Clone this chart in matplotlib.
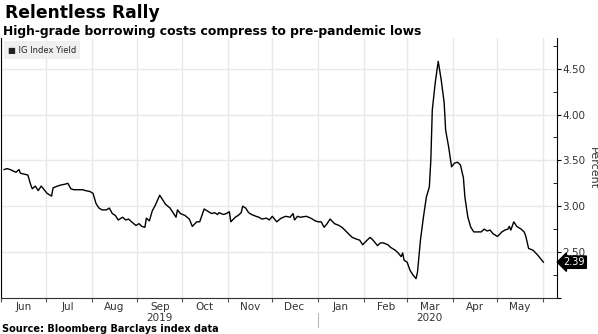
import matplotlib
matplotlib.use("Agg")
import matplotlib.pyplot as plt
import matplotlib.dates as mdates
import matplotlib.transforms as mtransforms
import pandas as pd

dates = [
    "2019-06-03", "2019-06-05", "2019-06-07", "2019-06-11", "2019-06-13", "2019-06-14",
    "2019-06-19", "2019-06-21", "2019-06-22", "2019-06-24", "2019-06-26", "2019-06-28",
    "2019-06-30", "2019-07-02", "2019-07-05", "2019-07-06", "2019-07-09", "2019-07-11",
    "2019-07-14", "2019-07-16", "2019-07-18", "2019-07-20", "2019-07-23", "2019-07-26",
    "2019-07-28", "2019-07-31", "2019-08-02", "2019-08-04", "2019-08-06", "2019-08-08",
    "2019-08-11", "2019-08-13", "2019-08-15", "2019-08-17", "2019-08-19", "2019-08-22",
    "2019-08-24", "2019-08-26", "2019-08-28", "2019-08-31", "2019-09-02", "2019-09-04",
    "2019-09-06", "2019-09-07", "2019-09-09", "2019-09-11", "2019-09-13", "2019-09-16",
    "2019-09-18", "2019-09-20", "2019-09-23", "2019-09-25", "2019-09-27", "2019-09-28",
    "2019-09-30", "2019-10-03", "2019-10-06", "2019-10-08", "2019-10-11", "2019-10-13",
    "2019-10-16", "2019-10-18", "2019-10-21", "2019-10-23", "2019-10-25", "2019-10-26",
    "2019-10-29", "2019-10-31", "2019-11-02", "2019-11-03", "2019-11-06", "2019-11-08",
    "2019-11-10", "2019-11-11", "2019-11-13", "2019-11-15", "2019-11-17", "2019-11-20",
    "2019-11-22", "2019-11-24", "2019-11-27", "2019-11-29", "2019-12-01", "2019-12-04",
    "2019-12-07", "2019-12-10", "2019-12-13", "2019-12-15", "2019-12-16", "2019-12-18",
    "2019-12-20", "2019-12-24", "2019-12-27", "2019-12-30", "2020-01-01", "2020-01-03",
    "2020-01-05", "2020-01-07", "2020-01-09", "2020-01-12", "2020-01-15", "2020-01-17",
    "2020-01-19", "2020-01-22", "2020-01-24", "2020-01-27", "2020-01-29", "2020-01-31",
    "2020-02-03", "2020-02-05", "2020-02-07", "2020-02-10", "2020-02-12", "2020-02-14",
    "2020-02-17", "2020-02-19", "2020-02-22", "2020-02-24", "2020-02-26", "2020-02-27",
    "2020-02-28", "2020-03-01", "2020-03-03", "2020-03-05", "2020-03-07", "2020-03-08",
    "2020-03-10", "2020-03-12", "2020-03-14", "2020-03-16", "2020-03-17", "2020-03-18",
    "2020-03-20", "2020-03-22", "2020-03-24", "2020-03-26", "2020-03-27", "2020-03-29",
    "2020-03-31", "2020-04-02", "2020-04-04", "2020-04-06", "2020-04-08", "2020-04-09",
    "2020-04-11", "2020-04-13", "2020-04-15", "2020-04-18", "2020-04-20", "2020-04-22",
    "2020-04-24", "2020-04-26", "2020-04-28", "2020-05-01", "2020-05-04", "2020-05-06",
    "2020-05-08", "2020-05-09", "2020-05-10", "2020-05-12", "2020-05-14", "2020-05-17",
    "2020-05-19", "2020-05-20", "2020-05-22", "2020-05-25", "2020-05-28", "2020-05-30",
    "2020-06-01",
]
yields = [
    3.40, 3.41, 3.40, 3.37, 3.40, 3.36,
    3.34, 3.23, 3.19, 3.22, 3.17, 3.22,
    3.18, 3.14, 3.11, 3.20, 3.22, 3.23,
    3.24, 3.25, 3.19, 3.18, 3.18, 3.18,
    3.17, 3.16, 3.14, 3.03, 2.98, 2.96,
    2.96, 2.98, 2.92, 2.90, 2.85, 2.88,
    2.85, 2.86, 2.83, 2.79, 2.81, 2.78,
    2.77, 2.87, 2.84, 2.95, 3.01, 3.12,
    3.07, 3.02, 2.98, 2.93, 2.88, 2.96,
    2.92, 2.90, 2.86, 2.78, 2.83, 2.83,
    2.97, 2.95, 2.92, 2.93, 2.91, 2.93,
    2.91, 2.92, 2.94, 2.83, 2.88, 2.90,
    2.93, 3.00, 2.98, 2.93, 2.91, 2.89,
    2.88, 2.86, 2.87, 2.85, 2.89, 2.83,
    2.87, 2.89, 2.88, 2.92, 2.85, 2.89,
    2.88, 2.89, 2.87, 2.84, 2.83, 2.83,
    2.77, 2.81, 2.86, 2.81, 2.79, 2.77,
    2.74, 2.69, 2.66, 2.64, 2.63, 2.58,
    2.63, 2.66, 2.63, 2.57, 2.60, 2.60,
    2.58, 2.55, 2.52, 2.49, 2.45, 2.49,
    2.41, 2.39, 2.30, 2.25, 2.21, 2.28,
    2.63, 2.88, 3.10, 3.21, 3.50, 4.05,
    4.35, 4.58, 4.38, 4.13, 3.83, 3.65,
    3.43, 3.47, 3.48, 3.45, 3.31, 3.10,
    2.88, 2.77, 2.72, 2.72, 2.72, 2.75,
    2.73, 2.74, 2.70, 2.67, 2.72, 2.74,
    2.75, 2.78, 2.74, 2.83, 2.78, 2.75,
    2.72, 2.68, 2.54, 2.52, 2.47, 2.43,
    2.39,
]
month_starts = pd.date_range("2019-06-01", "2020-06-01", freq="MS")
month_labels = ["Jun", "Jul", "Aug", "Sep", "Oct", "Nov", "Dec",
                "Jan", "Feb", "Mar", "Apr", "May"]
year_labels = {"2019": "2019-09-16", "2020": "2020-03-16"}
last_value = "2.39"

x = pd.to_datetime(dates)

fig = plt.figure(figsize=(5.98, 3.34), dpi=100)
ax = fig.add_axes([0.002, 0.108, 0.929, 0.777])

ax.plot(x, yields, color="black", linewidth=1.0, zorder=3)

ax.set_xlim(pd.Timestamp("2019-06-02"), pd.Timestamp("2020-06-10"))
ax.set_ylim(2.0, 4.83)

# month boundaries as major ticks, month labels on mid-month minor ticks
ax.set_xticks(month_starts)
ax.xaxis.set_major_formatter(mdates.DateFormatter(""))
mids = month_starts[:-1] + pd.Timedelta(days=15)
ax.set_xticks(mids, minor=True)
ax.set_xticklabels(month_labels, minor=True)
ax.tick_params(axis="x", which="major", direction="out", length=3, color="#555555")
ax.tick_params(axis="x", which="minor", length=0, pad=3, labelsize=7.5, labelcolor="#333333")

ax.yaxis.tick_right()
ax.yaxis.set_label_position("right")
ax.set_yticks([2.0, 2.5, 3.0, 3.5, 4.0, 4.5])
ax.set_yticklabels(["", "2.50", "3.00", "3.50", "4.00", "4.50"])
ax.set_yticks([2.25, 2.75, 3.25, 3.75, 4.25, 4.75], minor=True)
ax.tick_params(axis="y", which="major", direction="out", length=3, labelsize=7.5,
               labelcolor="#333333", pad=1)
ax.tick_params(axis="y", which="minor", direction="in", length=3)
ax.set_ylabel("Percent", rotation=-90, labelpad=2, fontsize=8, color="#333333",
              va="bottom")

ax.grid(True, which="major", axis="both", color="#e8e8e8", linewidth=1.0, zorder=0)
ax.spines["top"].set_visible(False)
ax.spines["left"].set_color("black")
ax.spines["right"].set_color("black")
ax.spines["bottom"].set_color("#333333")

# year labels and separator
blend = mtransforms.blended_transform_factory(ax.transData, ax.transAxes)
for label, day in year_labels.items():
    ax.text(pd.Timestamp(day), -0.078, label, transform=blend,
            ha="center", va="center", fontsize=7.5, color="#333333")
ax.plot([pd.Timestamp("2020-01-01")] * 2, [-0.058, -0.112], color="#bbbbbb",
        linewidth=0.8, transform=blend, clip_on=False)

# last value tag
ax.annotate(last_value, xy=(1.0, yields[-1]),
            xycoords=mtransforms.blended_transform_factory(ax.transAxes, ax.transData),
            xytext=(5, 0), textcoords="offset points", ha="left", va="center",
            fontsize=7, color="white",
            bbox=dict(boxstyle="larrow,pad=0.12", fc="black", ec="black"))

# legend box
ax.text(0.012, 0.955, "\u25a0 IG Index Yield", transform=ax.transAxes, fontsize=6,
        va="center", ha="left", color="#222222",
        bbox=dict(boxstyle="square,pad=0.5", fc="#f0f0f0", ec="none"))

fig.text(0.008, 0.962, "Relentless Rally", fontsize=12.3, fontweight="bold", va="center")
fig.text(0.005, 0.907, "High-grade borrowing costs compress to pre-pandemic lows",
         fontsize=8.9, fontweight="bold", va="center")
fig.text(0.003, 0.0, "Source: Bloomberg Barclays index data", fontsize=7,
         fontweight="bold", va="bottom")

fig.savefig("out.png", dpi=100)
